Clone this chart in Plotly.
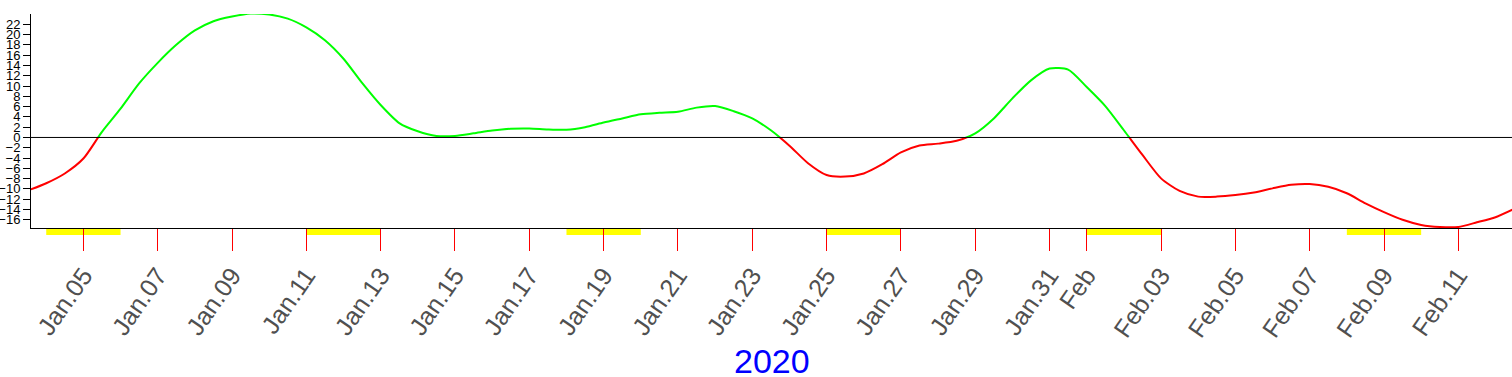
import plotly.graph_objects as go

# ---- data ----
dates = [
    "2020-01-03 14:00", "2020-01-04 00:00", "2020-01-04 12:00", "2020-01-05 00:00", "2020-01-05 12:00",
    "2020-01-06 00:00", "2020-01-06 12:00", "2020-01-07 00:00", "2020-01-07 12:00", "2020-01-08 00:00",
    "2020-01-08 12:00", "2020-01-09 00:00", "2020-01-09 12:00", "2020-01-10 00:00", "2020-01-10 12:00",
    "2020-01-11 00:00", "2020-01-11 12:00", "2020-01-12 00:00", "2020-01-12 12:00", "2020-01-13 00:00",
    "2020-01-13 12:00", "2020-01-14 00:00", "2020-01-14 12:00", "2020-01-15 00:00", "2020-01-15 12:00",
    "2020-01-16 00:00", "2020-01-16 12:00", "2020-01-17 00:00", "2020-01-17 12:00", "2020-01-18 00:00",
    "2020-01-18 12:00", "2020-01-19 00:00", "2020-01-19 12:00", "2020-01-20 00:00", "2020-01-20 12:00",
    "2020-01-21 00:00", "2020-01-21 12:00", "2020-01-22 00:00", "2020-01-22 12:00", "2020-01-23 00:00",
    "2020-01-23 12:00", "2020-01-24 00:00", "2020-01-24 12:00", "2020-01-25 00:00", "2020-01-25 12:00",
    "2020-01-26 00:00", "2020-01-26 12:00", "2020-01-27 00:00", "2020-01-27 12:00", "2020-01-28 00:00",
    "2020-01-28 12:00", "2020-01-29 00:00", "2020-01-29 12:00", "2020-01-30 00:00", "2020-01-30 12:00",
    "2020-01-31 00:00", "2020-01-31 12:00", "2020-02-01 00:00", "2020-02-01 12:00", "2020-02-02 00:00",
    "2020-02-02 12:00", "2020-02-03 00:00", "2020-02-03 12:00", "2020-02-04 00:00", "2020-02-04 12:00",
    "2020-02-05 00:00", "2020-02-05 12:00", "2020-02-06 00:00", "2020-02-06 12:00", "2020-02-07 00:00",
    "2020-02-07 12:00", "2020-02-08 00:00", "2020-02-08 12:00", "2020-02-09 00:00", "2020-02-09 12:00",
    "2020-02-10 00:00", "2020-02-10 12:00", "2020-02-11 00:00", "2020-02-11 12:00", "2020-02-12 00:00",
    "2020-02-12 12:00",
]
values = [
    -10.1, -8.9, -7.0, -4.1, 1.1,
    5.6, 10.5, 14.5, 18.0, 20.8,
    22.6, 23.5, 24.1, 23.9, 23.1,
    21.4, 18.9, 15.3, 10.6, 6.3,
    2.8, 1.2, 0.3, 0.3, 0.8,
    1.35, 1.7, 1.75, 1.55, 1.5,
    2.0, 2.9, 3.7, 4.5, 4.8,
    5.0, 5.8, 6.1, 5.1, 3.7,
    1.4, -1.6, -5.0, -7.3, -7.6,
    -7.0, -5.2, -2.9, -1.55, -1.2,
    -0.65, 0.8, 3.7, 7.6, 11.1,
    13.4, 13.2, 9.8, 6.1, 1.4,
    -3.4, -7.95, -10.4, -11.5, -11.5,
    -11.2, -10.7, -9.9, -9.2, -9.05,
    -9.6, -10.85, -12.8, -14.5, -16.0,
    -17.0, -17.4, -17.4, -16.5, -15.5,
    -13.9,
]

label_dates = ["2020-01-05", "2020-01-07", "2020-01-09", "2020-01-11", "2020-01-13", "2020-01-15",
               "2020-01-17", "2020-01-19", "2020-01-21", "2020-01-23", "2020-01-25", "2020-01-27",
               "2020-01-29", "2020-01-31", "2020-02-01", "2020-02-03", "2020-02-05", "2020-02-07",
               "2020-02-09", "2020-02-11"]
label_text = ["Jan.05", "Jan.07", "Jan.09", "Jan.11", "Jan.13", "Jan.15", "Jan.17", "Jan.19",
              "Jan.21", "Jan.23", "Jan.25", "Jan.27", "Jan.29", "Jan.31", "Feb", "Feb.03",
              "Feb.05", "Feb.07", "Feb.09", "Feb.11"]
minor_dates = ["2020-01-04", "2020-01-06", "2020-01-08", "2020-01-10", "2020-01-12", "2020-01-14",
               "2020-01-16", "2020-01-18", "2020-01-20", "2020-01-22", "2020-01-24", "2020-01-26",
               "2020-01-28", "2020-01-30", "2020-02-02", "2020-02-04", "2020-02-06", "2020-02-08",
               "2020-02-10", "2020-02-12"]
weekend_starts = ["2020-01-04", "2020-01-11", "2020-01-18", "2020-01-25", "2020-02-01", "2020-02-08"]
weekend_ends = ["2020-01-06", "2020-01-13", "2020-01-20", "2020-01-27", "2020-02-03", "2020-02-10"]

y_ticks_pos = [0, 2, 4, 6, 8, 10, 12, 14, 16, 18, 20, 22]
y_ticks_neg = [-16, -14, -12, -10, -8, -6, -4, -2]
year_label = "2020"

# ---- layout parameters ----
Y_MIN, Y_MAX = -17.6, 24.0
X_RANGE = ["2020-01-03 14:10", "2020-02-12 10:40"]
split = (0 - Y_MIN) / (Y_MAX - Y_MIN)
PLOT_H = 377 - 14 - 149
FONT = "Arial, Liberation Sans, sans-serif"

fig = go.Figure()
# positive part (green) drawn in upper subplot, negative part (red) in lower subplot
fig.add_trace(go.Scatter(x=dates, y=values, mode="lines", xaxis="x", yaxis="y",
                         line=dict(color="#00ff00", width=2, shape="spline", smoothing=0.7),
                         hoverinfo="skip", showlegend=False))
fig.add_trace(go.Scatter(x=dates, y=values, mode="lines", xaxis="x", yaxis="y2",
                         line=dict(color="#ff0000", width=2, shape="spline", smoothing=0.7),
                         hoverinfo="skip", showlegend=False))

axis_common = dict(showgrid=False, zeroline=False, showline=True, linecolor="black", linewidth=1,
                   ticks="outside", tickcolor="black", ticklen=7, tickwidth=1,
                   tickfont=dict(family=FONT, size=13, color="black"), fixedrange=True)

shapes = []
for s, e in zip(weekend_starts, weekend_ends):
    shapes.append(dict(type="rect", xref="x", yref="paper", x0=s, x1=e,
                       y0=-7.0 / PLOT_H, y1=0, fillcolor="#ffff00", line=dict(width=0), layer="below"))
shapes.append(dict(type="line", xref="paper", yref="paper", x0=0, x1=1, y0=split, y1=split,
                   line=dict(color="black", width=1), layer="above"))

fig.update_layout(
    width=1512, height=377,
    margin=dict(l=31, r=0, t=14, b=149, autoexpand=False),
    paper_bgcolor="white", plot_bgcolor="white",
    showlegend=False,
    xaxis=dict(type="date", range=X_RANGE, anchor="y2", showgrid=False, zeroline=False,
               showline=True, linecolor="black", linewidth=1, automargin=False,
               tickmode="array", tickvals=label_dates, ticktext=label_text,
               ticks="outside", ticklen=22, tickcolor="#ff0000", tickwidth=1,
               tickangle=-55, tickfont=dict(family=FONT, size=25, color="#505050")),
    xaxis2=dict(type="date", range=X_RANGE, overlaying="x", anchor="y2", showgrid=False,
                zeroline=False, showline=False, tickmode="array", tickvals=minor_dates,
                showticklabels=False, ticks="outside", ticklen=7, tickcolor="black", tickwidth=1),
    yaxis=dict(domain=[split, 1], range=[0, Y_MAX], anchor="x", tickmode="array",
               tickvals=y_ticks_pos, automargin=False, **axis_common),
    yaxis2=dict(domain=[0, split], range=[Y_MIN, 0], anchor="x", tickmode="array",
                tickvals=y_ticks_neg, automargin=False, **axis_common),
    shapes=shapes,
    annotations=[dict(text=year_label, xref="paper", yref="paper", x=0.5, y=-0.62,
                      xanchor="center", yanchor="middle", showarrow=False,
                      font=dict(family=FONT, size=34, color="#0000ff"))],
)

fig.write_html("out.html", post_script="document.body.style.margin='0px';",
               config={"displayModeBar": False, "staticPlot": True})
